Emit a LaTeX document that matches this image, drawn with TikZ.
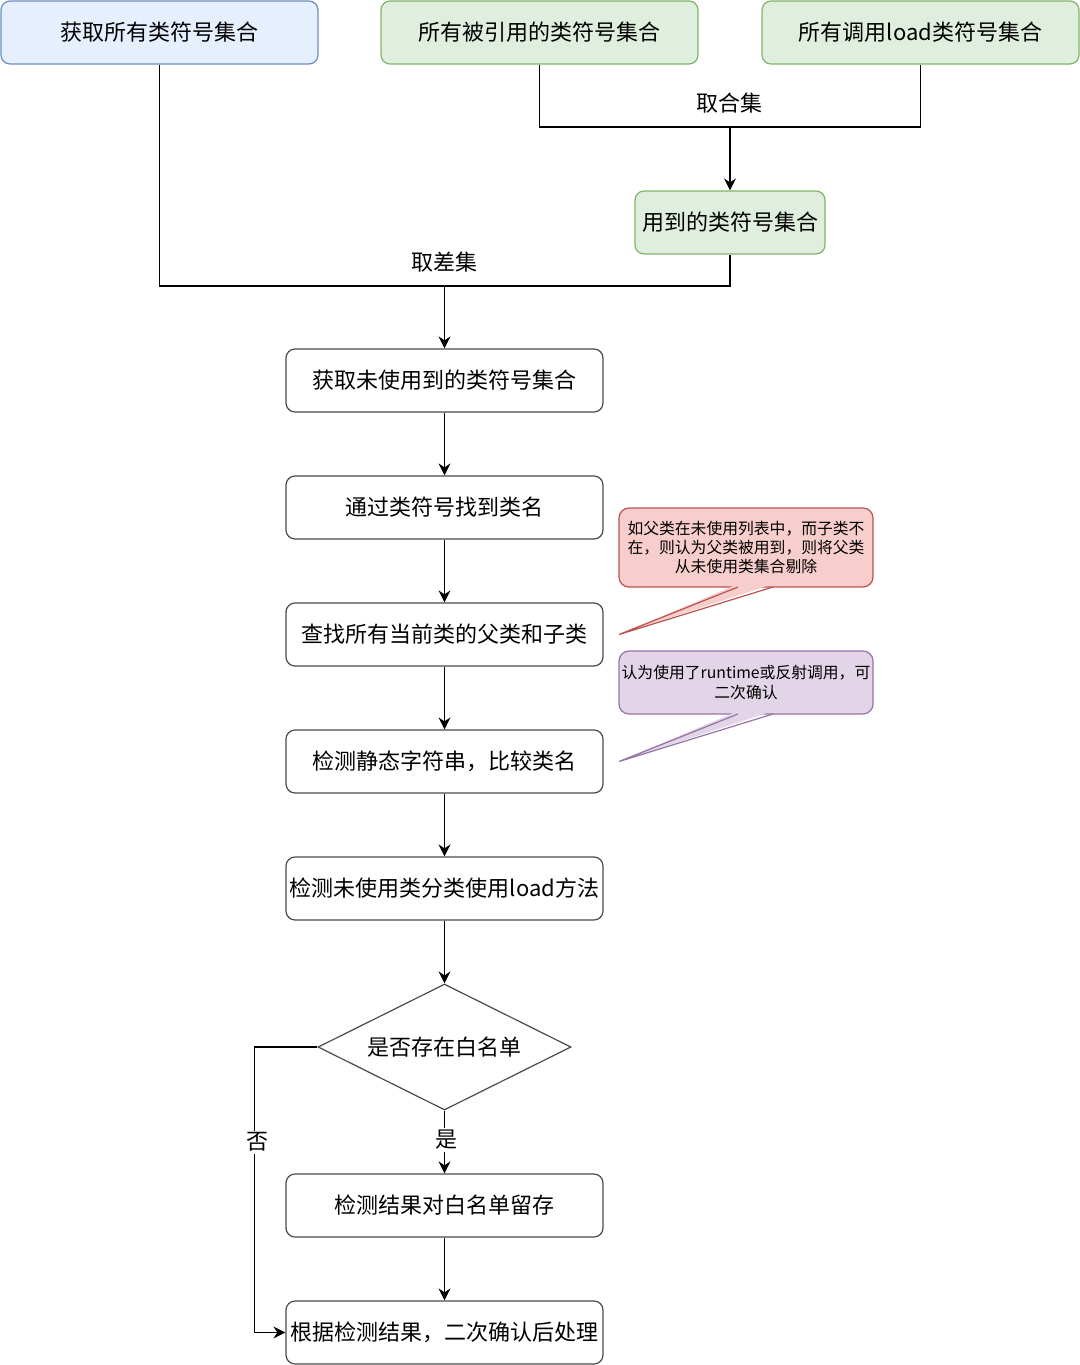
\documentclass[tikz,border=0pt]{standalone}
\usepackage{fontspec}
\setmainfont{Noto Sans CJK SC}
\usetikzlibrary{shapes.geometric,arrows.meta}
\definecolor{bluefill}{HTML}{DAE8FC}
\definecolor{bluedraw}{HTML}{6C8EBF}
\definecolor{greenfill}{HTML}{D5E8D4}
\definecolor{greendraw}{HTML}{82B366}
\definecolor{redfill}{HTML}{F8CECC}
\definecolor{reddraw}{HTML}{B85450}
\definecolor{purplefill}{HTML}{E1D5E7}
\definecolor{purpledraw}{HTML}{9673A6}
\definecolor{boxdraw}{HTML}{4A4A4A}
\tikzset{
  box/.style={draw=boxdraw, fill=white, rounded corners=4.5pt, line width=0.6pt,
    minimum width=158.5pt, minimum height=31.5pt, inner sep=0pt,
    font=\fontsize{11}{13}\selectfont},
  bluebox/.style={box, draw=bluedraw, fill=bluefill!70!white},
  greenbox/.style={box, draw=greendraw, fill=greenfill!75!white},
  decision/.style={diamond, draw=boxdraw, fill=white, line width=0.6pt, aspect=2,
    minimum width=126.5pt, minimum height=63pt, inner sep=0pt,
    font=\fontsize{11}{13}\selectfont},
  conn/.style={draw=black, line width=0.65pt},
  arrow/.style={conn, -{Stealth[length=6pt,width=6pt,inset=2pt]}},
  lbl/.style={font=\fontsize{11}{13}\selectfont, inner sep=1pt},
  callout/.style={rounded corners=5pt, line width=0.6pt, minimum width=127pt,
    inner sep=0pt, align=center, font=\fontsize{7.9}{9.6}\selectfont}
}
\begin{document}
\begin{tikzpicture}[x=0.5pt,y=-0.5pt]
\useasboundingbox (0,0) rectangle (1080,1365);

% top row
\node[bluebox] (A) at (159.5,32.5) {获取所有类符号集合};
\node[greenbox] (B) at (539.5,32.5) {所有被引用的类符号集合};
\node[greenbox] (C) at (920.5,32.5) {所有调用load类符号集合};
\node[greenbox, minimum width=95pt] (D) at (730,222.5) {用到的类符号集合};

% main column
\node[box] (E) at (444.5,380.5) {获取未使用到的类符号集合};
\node[box] (F) at (444.5,507.5) {通过类符号找到类名};
\node[box] (G) at (444.5,634.5) {查找所有当前类的父类和子类};
\node[box] (H) at (444.5,761.5) {检测静态字符串，比较类名};
\node[box] (I) at (444.5,888.5) {检测未使用类分类使用load方法};
\node[decision] (J) at (444.5,1047) {是否存在白名单};
\node[box] (K) at (444.5,1205.5) {检测结果对白名单留存};
\node[box] (L) at (444.5,1332.5) {根据检测结果，二次确认后处理};

% union
\coordinate (mj) at (730,127);
\draw[conn] (B.south) |- (mj) -| (C.south);
\draw[arrow] (mj) -- (D.north);
\node[lbl] (lunion) at (729,103) {取合集};

% difference
\coordinate (dj) at (444.5,286);
\draw[conn] (A.south) |- (dj) -| (D.south);
\draw[arrow] (dj) -- (E.north);
\node[lbl] (ldiff) at (444,262) {取差集};

% chain
\draw[arrow] (E) -- (F);
\draw[arrow] (F) -- (G);
\draw[arrow] (G) -- (H);
\draw[arrow] (H) -- (I);
\draw[arrow] (I) -- (J.north);
\draw[arrow] (J.south) -- (K.north);
\draw[arrow] (K) -- (L);
\draw[arrow] (J.west) -- ++(-63,0) |- (L.west);
\node[lbl, fill=white] (lyes) at (446,1140) {是};
\node[lbl, fill=white] (lno) at (257,1142) {否};

% callouts
\node[callout, draw=reddraw, fill=redfill, minimum height=39.5pt] (R) at (746,547.5)
  {如父类在未使用列表中，而子类不\\在，则认为父类被用到，则将父类\\从未使用类集合剔除};
\fill[redfill] (738,584) -- (619,634.5) -- (773,584) -- cycle;
\draw[reddraw, line width=0.6pt] (738,587) -- (619,634.5) -- (773,587);

\node[callout, draw=purpledraw, fill=purplefill, minimum height=31.5pt] (P) at (746,682.5)
  {认为使用了runtime或反射调用，可\\二次确认};
\fill[purplefill] (738,711) -- (619,761.5) -- (773,711) -- cycle;
\draw[purpledraw, line width=0.6pt] (738,714) -- (619,761.5) -- (773,714);
\end{tikzpicture}
\end{document}
